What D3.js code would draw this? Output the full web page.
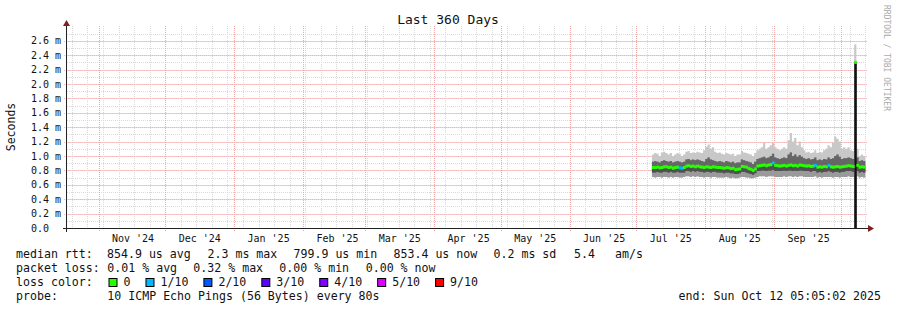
<!DOCTYPE html>
<html>
<head>
<meta charset="utf-8">
<script src="https://cdn.jsdelivr.net/npm/d3@7"></script>
<style>
  body { margin: 0; background: #fff; }
  text { font-family: "DejaVu Sans Mono", monospace; }
</style>
</head>
<body>
<div id="chart"></div>
<script>
// daily values, first day 2025-07-08, in ms
var firstDay = "2025-07-08";
var median = [0.84,0.84,0.845,0.835,0.84,0.85,0.85,0.84,0.845,0.83,0.84,0.845,0.835,0.83,0.84,
  0.86,0.865,0.855,0.86,0.85,0.86,0.85,0.845,0.84,0.85,0.845,0.84,0.85,0.845,0.84,
  0.84,0.835,0.83,0.84,0.835,0.825,0.83,0.81,0.815,0.82,0.855,0.85,0.845,0.825,0.815,0.80,0.82,
  0.86,0.865,0.87,0.875,0.865,0.875,0.88,0.905,0.87,0.865,0.86,0.865,0.87,0.86,
  0.87,0.875,0.865,0.87,0.86,0.875,0.87,0.865,0.86,0.865,0.855,0.86,0.87,
  0.845,0.85,0.845,0.855,0.85,0.87,0.85,0.845,0.85,0.855,0.845,0.85,0.855,
  0.86,0.865,0.86,0.855,2.3,0.87,0.845,0.85,0.845];
var loss = [0,0,0,0,0,0,0,0,0,0,0,0,1,1,0,
  0,0,0,0,0,0,0,0,0,0,0,0,0,0,0,
  0,0,0,0,0,0,0,0,0,0,0,0,0,0,0,0,0,
  0,0,0,0,0,0,0,1,0,0,0,0,0,0,
  0,0,0,0,0,0,0,0,0,0,0,0,1,
  0,0,0,0,0,1,0,0,0,0,0,0,0,
  0,0,0,0,0,0,0,0,0];
var smokeMin = [0.71,0.70,0.71,0.71,0.70,0.71,0.71,0.70,0.71,0.70,0.71,0.71,0.70,0.70,0.71,
  0.72,0.72,0.71,0.72,0.71,0.72,0.71,0.71,0.70,0.71,0.71,0.70,0.71,0.71,0.70,
  0.70,0.70,0.70,0.71,0.70,0.69,0.70,0.69,0.69,0.70,0.71,0.71,0.70,0.70,0.69,0.69,0.70,
  0.71,0.72,0.72,0.72,0.71,0.72,0.72,0.72,0.71,0.71,0.71,0.71,0.72,0.71,
  0.72,0.72,0.71,0.72,0.71,0.72,0.72,0.71,0.71,0.71,0.71,0.71,0.72,
  0.70,0.71,0.70,0.71,0.71,0.71,0.71,0.70,0.71,0.71,0.70,0.71,0.71,
  0.71,0.72,0.71,0.71,0.0,0.72,0.70,0.71,0.70];
var coreLo = [0.77,0.77,0.78,0.77,0.77,0.78,0.78,0.77,0.78,0.77,0.77,0.78,0.77,0.77,0.77,
  0.79,0.79,0.78,0.79,0.78,0.79,0.78,0.78,0.77,0.78,0.78,0.77,0.78,0.78,0.77,
  0.77,0.77,0.76,0.77,0.77,0.76,0.76,0.75,0.75,0.76,0.78,0.78,0.77,0.76,0.75,0.74,0.76,
  0.79,0.79,0.80,0.80,0.79,0.80,0.80,0.81,0.79,0.79,0.79,0.79,0.80,0.79,
  0.80,0.80,0.79,0.80,0.79,0.80,0.80,0.79,0.79,0.79,0.78,0.79,0.79,
  0.77,0.78,0.77,0.78,0.78,0.79,0.78,0.77,0.78,0.78,0.77,0.78,0.78,
  0.79,0.79,0.79,0.78,0.0,0.79,0.77,0.78,0.77];
var coreHi = [0.92,0.93,0.92,0.91,0.93,0.94,0.93,0.92,0.93,0.91,0.92,0.93,0.92,0.91,0.92,
  0.95,0.96,0.94,0.95,0.94,0.95,0.94,0.93,0.92,0.96,0.98,0.95,0.94,0.93,0.92,
  0.93,0.92,0.91,0.93,0.92,0.91,0.92,0.90,0.91,0.91,0.95,0.94,0.93,0.92,0.91,0.89,0.92,
  0.96,0.97,0.98,0.99,0.97,0.98,1.00,1.03,0.98,0.97,0.96,0.97,0.98,0.97,
  1.02,1.05,1.00,1.02,0.99,1.01,0.99,0.97,0.96,0.97,0.95,0.96,0.98,
  0.94,0.95,0.94,0.96,0.95,0.98,0.96,0.97,1.00,1.02,0.99,0.96,0.97,
  0.97,0.98,0.97,0.96,2.3,0.98,0.93,0.94,0.93];
var smokeMax = [1.02,1.04,1.03,1.00,1.05,1.06,1.04,1.02,1.04,1.00,1.02,1.04,1.03,1.00,1.02,
  1.06,1.07,1.04,1.05,1.04,1.06,1.05,1.04,1.08,1.13,1.16,1.10,1.12,1.06,1.04,
  1.05,1.03,1.02,1.04,1.03,1.02,1.03,1.00,1.02,1.02,1.07,1.05,1.04,1.03,1.02,1.00,1.04,
  1.08,1.10,1.12,1.18,1.10,1.12,1.15,1.18,1.12,1.10,1.08,1.10,1.12,1.10,
  1.22,1.32,1.20,1.25,1.15,1.20,1.12,1.08,1.05,1.06,1.04,1.05,1.08,
  1.04,1.06,1.05,1.08,1.10,1.15,1.12,1.18,1.27,1.24,1.20,1.10,1.12,
  1.10,1.12,1.08,1.07,2.55,1.10,1.00,1.02,1.00];

var yTicks = [0, 0.2, 0.4, 0.6, 0.8, 1.0, 1.2, 1.4, 1.6, 1.8, 2.0, 2.2, 2.4, 2.6];
var monthLabels = ["Nov '24", "Dec '24", "Jan '25", "Feb '25", "Mar '25", "Apr '25",
  "May '25", "Jun '25", "Jul '25", "Aug '25", "Sep '25"];
var lossLabels = ["0", "1/10", "2/10", "3/10", "4/10", "5/10", "9/10"];
var lossColors = ["#26ff00", "#00b8ff", "#0059ff", "#5e00ff", "#7e00ff", "#dd00ff", "#ff0000"];

var W = 897, H = 310;
var pLeft = 67, pRight = 867, pTop = 28, pBottom = 228;

var svg = d3.select("#chart").append("svg")
    .attr("width", W).attr("height", H);
svg.append("rect").attr("width", W).attr("height", H).attr("fill", "#fff");

var DAY = 86400000;
var t0 = Date.UTC(2024, 9, 17, 18, 40);
var x = d3.scaleUtc().domain([t0, t0 + 360 * DAY]).range([pLeft, pRight]);
var y = d3.scaleLinear().domain([0, 200 / 72]).range([pBottom, pTop]);

// grid
var grid = svg.append("g");
var weeks = d3.utcSunday.range(new Date(t0), new Date(t0 + 360 * DAY));
var months = d3.utcMonth.range(new Date(t0), new Date(t0 + 360 * DAY));
grid.selectAll(".vmin").data(weeks).enter().append("line")
    .attr("x1", function(d) { return Math.round(x(d)) + 0.5; })
    .attr("x2", function(d) { return Math.round(x(d)) + 0.5; })
    .attr("y1", pTop - 2).attr("y2", pBottom)
    .attr("stroke", "#dadada").attr("stroke-dasharray", "1,1");
var minorY = d3.range(1, 28).map(function(i) { return i / 10; });
grid.selectAll(".hmin").data(minorY).enter().append("line")
    .attr("x1", pLeft).attr("x2", pRight)
    .attr("y1", function(d) { return Math.round(y(d)) + 0.5; })
    .attr("y2", function(d) { return Math.round(y(d)) + 0.5; })
    .attr("stroke", "#dadada").attr("stroke-dasharray", "1,1");
grid.selectAll(".vmaj").data(months).enter().append("line")
    .attr("x1", function(d) { return Math.round(x(d)) + 0.5; })
    .attr("x2", function(d) { return Math.round(x(d)) + 0.5; })
    .attr("y1", pTop - 2).attr("y2", pBottom + 3)
    .attr("stroke", "#f2a6a6").attr("stroke-dasharray", "1,1");
grid.selectAll(".hmaj").data(yTicks.slice(1)).enter().append("line")
    .attr("x1", pLeft - 3).attr("x2", pRight)
    .attr("y1", function(d) { return Math.round(y(d)) + 0.5; })
    .attr("y2", function(d) { return Math.round(y(d)) + 0.5; })
    .attr("stroke", "#f0baba").attr("stroke-dasharray", "1,1");

// data
var start = new Date(firstDay + "T00:00:00Z").getTime();
var rows = median.map(function(m, i) {
  return { t: start + i * DAY, med: m, lo: smokeMin[i], clo: coreLo[i], chi: coreHi[i], hi: smokeMax[i], loss: loss[i] };
});
var last = rows[rows.length - 1];
var rowsExt = rows.concat([{ t: last.t + DAY, med: last.med, lo: last.lo, clo: last.clo, chi: last.chi, hi: last.hi, loss: last.loss }]);

function band(a, b) {
  return d3.area().curve(d3.curveStepAfter)
    .x(function(d) { return x(d.t); })
    .y0(function(d) { return y(d[a]); })
    .y1(function(d) { return y(d[b]); });
}
svg.append("path").datum(rowsExt).attr("d", band("lo", "hi")).attr("fill", "#c8c8c8");
svg.append("path").datum(rowsExt).attr("d", band("lo", "chi")).attr("fill", "#9a9a9a");
svg.append("path").datum(rowsExt).attr("d", band("clo", "chi")).attr("fill", "#666");
svg.append("path").datum(rowsExt).attr("d", band("clo", "med")).attr("fill", "#505050");

// spike drawn as a dark bar where the median jumps
svg.selectAll(".spike").data(rows.filter(function(d) { return d.med > 2; })).enter().append("rect")
    .attr("x", function(d) { return x(d.t) + 0.5; })
    .attr("width", 2)
    .attr("y", function(d) { return y(d.med); })
    .attr("height", function(d) { return pBottom - y(d.med); })
    .attr("fill", "#111");

// median, coloured by loss
svg.selectAll(".med").data(rows).enter().append("rect")
    .attr("x", function(d) { return x(d.t); })
    .attr("width", function(d) { return x(d.t + DAY) - x(d.t) + 0.5; })
    .attr("y", function(d) { return y(d.med) - 1.5; })
    .attr("height", 3)
    .attr("fill", function(d) { return lossColors[d.loss]; });

// axes
var axis = svg.append("g");
axis.append("line").attr("x1", pLeft - 4).attr("x2", pRight + 2)
    .attr("y1", pBottom + 0.5).attr("y2", pBottom + 0.5).attr("stroke", "#222");
axis.append("line").attr("x1", pLeft - 0.5).attr("x2", pLeft - 0.5)
    .attr("y1", pBottom + 4).attr("y2", pTop - 3).attr("stroke", "#222");
axis.append("path").attr("d", "M" + (pRight + 1) + "," + (pBottom - 3) + "L" + (pRight + 7) + "," + (pBottom + 0.5) + "L" + (pRight + 1) + "," + (pBottom + 4) + "Z")
    .attr("fill", "#7f1f1f");
axis.append("path").attr("d", "M" + (pLeft - 4) + "," + (pTop - 2) + "L" + (pLeft - 0.5) + "," + (pTop - 8) + "L" + (pLeft + 3) + "," + (pTop - 2) + "Z")
    .attr("fill", "#7f1f1f");

// y tick labels
svg.selectAll(".ylab").data(yTicks).enter().append("text")
    .attr("x", 31).attr("y", function(d) { return y(d) + 3.5; })
    .attr("font-size", "10px").attr("fill", "#111")
    .text(function(d) { return d === 0 ? "0.0" : d.toFixed(1) + " m"; });

// month labels at mid month
svg.selectAll(".xlab").data(months.slice(0, monthLabels.length)).enter().append("text")
    .attr("x", function(d) { return x(d.getTime() + 15.5 * DAY); })
    .attr("y", 242).attr("text-anchor", "middle")
    .attr("font-size", "10px").attr("fill", "#111")
    .text(function(d, i) { return monthLabels[i]; });

svg.append("text").attr("x", 448).attr("y", 24).attr("text-anchor", "middle")
    .attr("font-size", "13px").attr("fill", "#111").text("Last 360 Days");
svg.append("text").attr("transform", "translate(15,127) rotate(-90)")
    .attr("text-anchor", "middle").attr("font-size", "11.5px").attr("fill", "#111").text("Seconds");
svg.append("text").attr("transform", "translate(884,5) rotate(90)")
    .attr("font-size", "8px").attr("fill", "#aaa").text("RRDTOOL / TOBI OETIKER");

// legend
var fs = "11.6px";
function put(txt, px, py, anchor) {
  return svg.append("text").attr("x", px).attr("y", py).attr("font-size", fs)
    .attr("fill", "#111").attr("text-anchor", anchor || "start").attr("xml:space", "preserve").text(txt);
}
put("median rtt:", 16, 258);
put("854.9 us avg", 107, 258);
put("2.3 ms max", 207.5, 258);
put("799.9 us min", 293.5, 258);
put("853.4 us now", 393.5, 258);
put("0.2 ms sd", 493.5, 258);
put("5.4", 574, 258);
put("am/s", 615, 258);
put("packet loss:", 16, 272);
put("0.01 % avg", 107.3, 272);
put("0.32 % max", 193.3, 272);
put("0.00 % min", 279.3, 272);
put("0.00 % now", 365.7, 272);
put("loss color:", 16, 286);
var cx = 108.5;
lossLabels.forEach(function(l, i) {
  svg.append("rect").attr("x", cx + 0.5).attr("y", 278.5).attr("width", 8).attr("height", 8)
    .attr("fill", lossColors[i]).attr("stroke", "#000").attr("stroke-width", 1);
  var t = put(l, cx + 15, 286);
  cx = cx + 15 + t.node().getComputedTextLength() + 15;
});
put("probe:", 16, 300);
put("10 ICMP Echo Pings (56 Bytes) every 80s", 107.3, 300);
put("end: Sun Oct 12 05:05:02 2025", 881, 300, "end");
</script>
</body>
</html>
